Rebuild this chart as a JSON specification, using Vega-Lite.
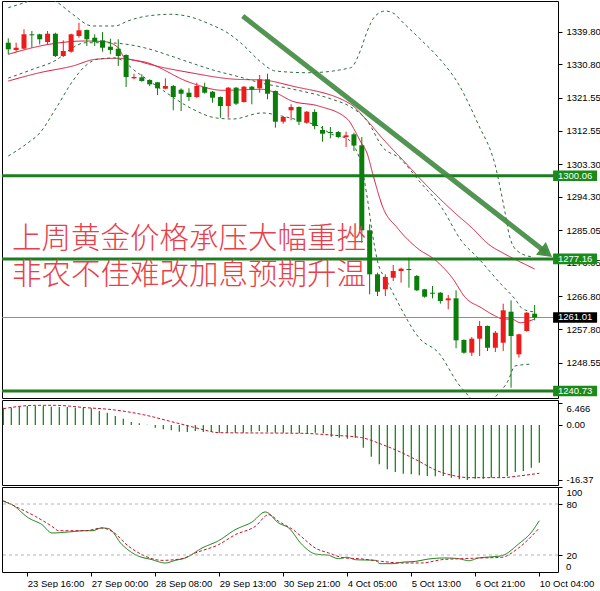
{
  "$schema": "https://vega.github.io/schema/vega-lite/v6.json",
  "background": "#ffffff",
  "padding": 0,
  "spacing": 2,
  "bounds": "flush",
  "resolve": {"scale": {"color": "independent", "strokeDash": "independent"}},
  "config": {
    "view": {"stroke": "#000000", "strokeWidth": 1},
    "axis": {"labelFont": "Liberation Sans", "labelFontSize": 9.5, "labelColor": "#000000", "tickColor": "#000000", "tickSize": 4, "labelPadding": 4, "domain": false, "grid": false, "labelOverlap": false, "labelBound": false, "tickCount": 30}
  },
  "datasets": {
    "candles": [
      {"k": 0, "o": 1336.76, "h": 1337.98, "l": 1333.57, "c": 1334.94},
      {"k": 1, "o": 1334.75, "h": 1336.76, "l": 1334.28, "c": 1335.38},
      {"k": 2, "o": 1335.11, "h": 1340.46, "l": 1334.94, "c": 1339.08},
      {"k": 3, "o": 1339.08, "h": 1339.99, "l": 1335.38, "c": 1338.80},
      {"k": 4, "o": 1339.08, "h": 1339.24, "l": 1336.32, "c": 1337.70},
      {"k": 5, "o": 1336.96, "h": 1339.99, "l": 1336.32, "c": 1339.24},
      {"k": 6, "o": 1339.24, "h": 1339.50, "l": 1332.82, "c": 1333.10},
      {"k": 7, "o": 1333.10, "h": 1337.42, "l": 1332.82, "c": 1334.47},
      {"k": 8, "o": 1334.28, "h": 1339.24, "l": 1334.01, "c": 1339.08},
      {"k": 9, "o": 1338.61, "h": 1342.28, "l": 1338.14, "c": 1340.18},
      {"k": 10, "o": 1340.26, "h": 1340.40, "l": 1335.85, "c": 1337.70},
      {"k": 11, "o": 1338.14, "h": 1339.08, "l": 1335.85, "c": 1337.04},
      {"k": 12, "o": 1337.42, "h": 1339.71, "l": 1334.28, "c": 1335.38},
      {"k": 13, "o": 1335.66, "h": 1337.87, "l": 1333.57, "c": 1334.75},
      {"k": 14, "o": 1335.11, "h": 1337.70, "l": 1330.34, "c": 1333.10},
      {"k": 15, "o": 1333.37, "h": 1333.57, "l": 1324.55, "c": 1327.31},
      {"k": 16, "o": 1326.95, "h": 1328.22, "l": 1326.67, "c": 1327.31},
      {"k": 17, "o": 1327.22, "h": 1328.05, "l": 1326.01, "c": 1326.20},
      {"k": 18, "o": 1326.48, "h": 1326.67, "l": 1324.83, "c": 1325.29},
      {"k": 19, "o": 1325.85, "h": 1325.93, "l": 1322.34, "c": 1324.19},
      {"k": 20, "o": 1324.08, "h": 1326.95, "l": 1323.92, "c": 1324.83},
      {"k": 21, "o": 1324.83, "h": 1325.10, "l": 1318.13, "c": 1321.79},
      {"k": 22, "o": 1323.81, "h": 1324.19, "l": 1317.93, "c": 1322.70},
      {"k": 23, "o": 1322.98, "h": 1324.19, "l": 1320.69, "c": 1321.79},
      {"k": 24, "o": 1321.79, "h": 1325.74, "l": 1321.52, "c": 1324.83},
      {"k": 25, "o": 1324.55, "h": 1325.74, "l": 1322.70, "c": 1322.98},
      {"k": 26, "o": 1323.25, "h": 1323.45, "l": 1320.22, "c": 1321.60},
      {"k": 27, "o": 1321.79, "h": 1321.90, "l": 1316.09, "c": 1319.31},
      {"k": 28, "o": 1319.31, "h": 1324.55, "l": 1316.09, "c": 1324.36},
      {"k": 29, "o": 1324.36, "h": 1324.55, "l": 1319.59, "c": 1319.95},
      {"k": 30, "o": 1320.41, "h": 1324.83, "l": 1320.22, "c": 1324.63},
      {"k": 31, "o": 1324.63, "h": 1324.83, "l": 1319.78, "c": 1323.81},
      {"k": 32, "o": 1324.19, "h": 1327.86, "l": 1322.98, "c": 1326.67},
      {"k": 33, "o": 1326.67, "h": 1328.22, "l": 1321.16, "c": 1322.70},
      {"k": 34, "o": 1323.45, "h": 1323.60, "l": 1313.33, "c": 1314.98},
      {"k": 35, "o": 1314.98, "h": 1316.55, "l": 1314.43, "c": 1316.28},
      {"k": 36, "o": 1318.13, "h": 1319.78, "l": 1315.37, "c": 1319.04},
      {"k": 37, "o": 1319.04, "h": 1319.20, "l": 1314.07, "c": 1314.98},
      {"k": 38, "o": 1314.71, "h": 1317.93, "l": 1314.43, "c": 1317.74},
      {"k": 39, "o": 1317.66, "h": 1318.40, "l": 1312.89, "c": 1313.80},
      {"k": 40, "o": 1312.69, "h": 1313.80, "l": 1309.47, "c": 1311.67},
      {"k": 41, "o": 1312.14, "h": 1313.52, "l": 1310.41, "c": 1311.87},
      {"k": 42, "o": 1312.14, "h": 1312.42, "l": 1310.41, "c": 1310.76},
      {"k": 43, "o": 1310.76, "h": 1312.23, "l": 1308.01, "c": 1311.23},
      {"k": 44, "o": 1311.51, "h": 1311.95, "l": 1306.90, "c": 1308.42},
      {"k": 45, "o": 1308.48, "h": 1310.76, "l": 1281.62, "c": 1285.04},
      {"k": 46, "o": 1285.04, "h": 1286.70, "l": 1267.40, "c": 1272.91},
      {"k": 47, "o": 1272.91, "h": 1273.35, "l": 1266.93, "c": 1268.11},
      {"k": 48, "o": 1268.78, "h": 1272.91, "l": 1266.93, "c": 1272.17},
      {"k": 49, "o": 1271.97, "h": 1275.48, "l": 1271.06, "c": 1273.82},
      {"k": 50, "o": 1273.82, "h": 1274.73, "l": 1270.60, "c": 1274.46},
      {"k": 51, "o": 1274.37, "h": 1277.49, "l": 1269.22, "c": 1274.10},
      {"k": 52, "o": 1272.44, "h": 1272.72, "l": 1268.31, "c": 1268.50},
      {"k": 53, "o": 1268.78, "h": 1268.90, "l": 1266.46, "c": 1266.74},
      {"k": 54, "o": 1267.84, "h": 1269.69, "l": 1266.29, "c": 1267.56},
      {"k": 55, "o": 1267.84, "h": 1268.00, "l": 1264.81, "c": 1265.55},
      {"k": 56, "o": 1265.74, "h": 1267.20, "l": 1263.26, "c": 1266.29},
      {"k": 57, "o": 1266.29, "h": 1268.50, "l": 1252.51, "c": 1254.71},
      {"k": 58, "o": 1254.80, "h": 1254.99, "l": 1251.02, "c": 1251.30},
      {"k": 59, "o": 1251.30, "h": 1255.62, "l": 1250.39, "c": 1255.16},
      {"k": 60, "o": 1255.16, "h": 1260.04, "l": 1250.39, "c": 1258.66},
      {"k": 61, "o": 1258.66, "h": 1258.80, "l": 1251.76, "c": 1252.67},
      {"k": 62, "o": 1252.67, "h": 1257.28, "l": 1251.49, "c": 1256.81},
      {"k": 63, "o": 1254.05, "h": 1264.81, "l": 1251.76, "c": 1262.99},
      {"k": 64, "o": 1262.60, "h": 1265.74, "l": 1241.65, "c": 1255.90},
      {"k": 65, "o": 1250.85, "h": 1256.53, "l": 1249.92, "c": 1256.37},
      {"k": 66, "o": 1257.28, "h": 1262.52, "l": 1257.09, "c": 1262.32},
      {"k": 67, "o": 1262.05, "h": 1264.45, "l": 1260.23, "c": 1261.01}
    ],
    "ind": [
      {"s": "fast", "k": 0, "v": 1333.57}, {"s": "fast", "k": 5.2, "v": 1336.32}, {"s": "fast", "k": 9.8, "v": 1337.23},
      {"s": "fast", "k": 12.3, "v": 1337.04}, {"s": "fast", "k": 14, "v": 1335.38}, {"s": "fast", "k": 14.8, "v": 1332.63},
      {"s": "fast", "k": 17.7, "v": 1331.25}, {"s": "fast", "k": 23.2, "v": 1325.74}, {"s": "fast", "k": 27.3, "v": 1323.64},
      {"s": "fast", "k": 32.3, "v": 1323.92}, {"s": "fast", "k": 34, "v": 1322.98}, {"s": "fast", "k": 36.1, "v": 1320.69},
      {"s": "fast", "k": 39.5, "v": 1319.31}, {"s": "fast", "k": 43.2, "v": 1315.64}, {"s": "fast", "k": 44, "v": 1312.97},
      {"s": "fast", "k": 44.8, "v": 1309.66}, {"s": "fast", "k": 45.7, "v": 1306.08}, {"s": "fast", "k": 46.5, "v": 1299.74},
      {"s": "fast", "k": 47.7, "v": 1291.27}, {"s": "fast", "k": 49.5, "v": 1285.76}, {"s": "fast", "k": 52, "v": 1280.24},
      {"s": "fast", "k": 54.5, "v": 1276.58}, {"s": "fast", "k": 56.5, "v": 1271.97}, {"s": "fast", "k": 58.2, "v": 1266.46},
      {"s": "fast", "k": 60.2, "v": 1263.70}, {"s": "fast", "k": 62, "v": 1261.41}, {"s": "fast", "k": 63, "v": 1260.59},
      {"s": "fast", "k": 64, "v": 1260.59}, {"s": "fast", "k": 65.2, "v": 1259.57}, {"s": "fast", "k": 67, "v": 1260.59},
      {"s": "slow", "k": 0, "v": 1326.20}, {"s": "slow", "k": 4, "v": 1328.49}, {"s": "slow", "k": 8.2, "v": 1330.34},
      {"s": "slow", "k": 11.1, "v": 1332.19}, {"s": "slow", "k": 14, "v": 1332.46}, {"s": "slow", "k": 16.5, "v": 1331.72},
      {"s": "slow", "k": 17.7, "v": 1330.97}, {"s": "slow", "k": 23.2, "v": 1328.49}, {"s": "slow", "k": 29, "v": 1326.67},
      {"s": "slow", "k": 32.3, "v": 1326.48}, {"s": "slow", "k": 36.1, "v": 1324.83}, {"s": "slow", "k": 43.6, "v": 1319.78},
      {"s": "slow", "k": 45.5, "v": 1315.73}, {"s": "slow", "k": 47.7, "v": 1310.21}, {"s": "slow", "k": 50.7, "v": 1303.32},
      {"s": "slow", "k": 52.7, "v": 1298.63}, {"s": "slow", "k": 54.8, "v": 1294.03}, {"s": "slow", "k": 57, "v": 1289.54},
      {"s": "slow", "k": 59, "v": 1285.76}, {"s": "slow", "k": 61.1, "v": 1281.26}, {"s": "slow", "k": 63.2, "v": 1278.51},
      {"s": "slow", "k": 65.7, "v": 1275.75}, {"s": "slow", "k": 67, "v": 1274.37},
      {"s": "up", "k": 0, "v": 1346.41}, {"s": "up", "k": 2.7, "v": 1348.26}, {"s": "up", "k": 4.5, "v": 1349.64},
      {"s": "up", "k": 6.3, "v": 1347.79}, {"s": "up", "k": 8.2, "v": 1344.59}, {"s": "up", "k": 10.7, "v": 1341.37},
      {"s": "up", "k": 13.6, "v": 1341.37}, {"s": "up", "k": 15.2, "v": 1342.75}, {"s": "up", "k": 17.7, "v": 1344.12},
      {"s": "up", "k": 20.7, "v": 1344.59}, {"s": "up", "k": 22.7, "v": 1344.12}, {"s": "up", "k": 25.7, "v": 1341.84},
      {"s": "up", "k": 28.2, "v": 1339.08}, {"s": "up", "k": 29.8, "v": 1336.32}, {"s": "up", "k": 32, "v": 1331.72},
      {"s": "up", "k": 34, "v": 1328.96}, {"s": "up", "k": 38.2, "v": 1328.49}, {"s": "up", "k": 43.6, "v": 1329.87},
      {"s": "up", "k": 44.8, "v": 1334.47}, {"s": "up", "k": 45.7, "v": 1339.99}, {"s": "up", "k": 46.7, "v": 1344.12},
      {"s": "up", "k": 48, "v": 1345.50}, {"s": "up", "k": 49.2, "v": 1344.68}, {"s": "up", "k": 49.8, "v": 1343.30},
      {"s": "up", "k": 52.3, "v": 1338.06}, {"s": "up", "k": 54.8, "v": 1332.55}, {"s": "up", "k": 57.3, "v": 1325.38},
      {"s": "up", "k": 59.8, "v": 1314.35}, {"s": "up", "k": 62, "v": 1302.77}, {"s": "up", "k": 63.2, "v": 1290.36},
      {"s": "up", "k": 63.8, "v": 1283.47}, {"s": "up", "k": 64.8, "v": 1279.33}, {"s": "up", "k": 66.7, "v": 1277.68},
      {"s": "mid", "k": 0, "v": 1327.00}, {"s": "mid", "k": 3.2, "v": 1329.51}, {"s": "mid", "k": 6.1, "v": 1331.99},
      {"s": "mid", "k": 8.2, "v": 1335.38}, {"s": "mid", "k": 9.8, "v": 1336.76}, {"s": "mid", "k": 12.3, "v": 1336.76},
      {"s": "mid", "k": 14.5, "v": 1336.49}, {"s": "mid", "k": 17.3, "v": 1335.38}, {"s": "mid", "k": 20.7, "v": 1333.10},
      {"s": "mid", "k": 23.2, "v": 1331.25}, {"s": "mid", "k": 26.5, "v": 1328.96}, {"s": "mid", "k": 29, "v": 1327.58},
      {"s": "mid", "k": 32.3, "v": 1325.60}, {"s": "mid", "k": 36.1, "v": 1324.00}, {"s": "mid", "k": 41.1, "v": 1321.24},
      {"s": "mid", "k": 43.6, "v": 1319.04}, {"s": "mid", "k": 45.7, "v": 1315.18}, {"s": "mid", "k": 47.7, "v": 1307.82},
      {"s": "mid", "k": 49.8, "v": 1304.98}, {"s": "mid", "k": 52.3, "v": 1298.63}, {"s": "mid", "k": 55.2, "v": 1291.19},
      {"s": "mid", "k": 57.7, "v": 1282.09}, {"s": "mid", "k": 59.8, "v": 1277.41}, {"s": "mid", "k": 62.7, "v": 1270.24},
      {"s": "mid", "k": 64.5, "v": 1266.10}, {"s": "mid", "k": 65.5, "v": 1263.34}, {"s": "mid", "k": 67, "v": 1262.52},
      {"s": "lo", "k": 0, "v": 1305.53}, {"s": "lo", "k": 2.3, "v": 1308.83}, {"s": "lo", "k": 4, "v": 1311.87},
      {"s": "lo", "k": 6.1, "v": 1318.76}, {"s": "lo", "k": 8.2, "v": 1326.20}, {"s": "lo", "k": 9.8, "v": 1330.34},
      {"s": "lo", "k": 11.5, "v": 1332.27}, {"s": "lo", "k": 13.6, "v": 1332.55}, {"s": "lo", "k": 16.5, "v": 1328.41},
      {"s": "lo", "k": 19.8, "v": 1323.45}, {"s": "lo", "k": 23.2, "v": 1318.76}, {"s": "lo", "k": 26.5, "v": 1316.00},
      {"s": "lo", "k": 28.6, "v": 1315.73}, {"s": "lo", "k": 32.3, "v": 1317.40}, {"s": "lo", "k": 34.8, "v": 1316.55},
      {"s": "lo", "k": 37.3, "v": 1315.18}, {"s": "lo", "k": 39.5, "v": 1313.80}, {"s": "lo", "k": 41.1, "v": 1311.59},
      {"s": "lo", "k": 43.2, "v": 1310.21}, {"s": "lo", "k": 44, "v": 1308.28}, {"s": "lo", "k": 44.8, "v": 1304.15},
      {"s": "lo", "k": 45.7, "v": 1293.95}, {"s": "lo", "k": 46.3, "v": 1284.85}, {"s": "lo", "k": 47, "v": 1276.58},
      {"s": "lo", "k": 48.2, "v": 1271.06}, {"s": "lo", "k": 49.5, "v": 1265.55}, {"s": "lo", "k": 52.3, "v": 1255.35},
      {"s": "lo", "k": 54.8, "v": 1251.21}, {"s": "lo", "k": 57.3, "v": 1242.67}, {"s": "lo", "k": 58.6, "v": 1239.36},
      {"s": "lo", "k": 60.5, "v": 1235.77}, {"s": "lo", "k": 62.1, "v": 1239.36}, {"s": "lo", "k": 63.6, "v": 1243.49},
      {"s": "lo", "k": 64.5, "v": 1247.63}, {"s": "lo", "k": 66.7, "v": 1248.18}
    ],
    "levels": [
      {"p": 1300.06, "t": "g"},
      {"p": 1277.16, "t": "g"},
      {"p": 1240.73, "t": "g"},
      {"p": 1261.01, "t": "b"}
    ],
    "notes": [
      {"t": "上周黄金价格承压大幅重挫", "p": 1282.64},
      {"t": "非农不佳难改加息预期升温", "p": 1272.72}
    ],
    "macd": [
      {"k": 0, "v": 5.16}, {"k": 1, "v": 5.16}, {"k": 2, "v": 5.36}, {"k": 3, "v": 5.65}, {"k": 4, "v": 5.65},
      {"k": 5, "v": 5.65}, {"k": 6, "v": 5.46}, {"k": 7, "v": 5.36}, {"k": 8, "v": 5.36}, {"k": 9, "v": 5.16},
      {"k": 10, "v": 5.16}, {"k": 11, "v": 4.96}, {"k": 12, "v": 4.17}, {"k": 13, "v": 3.67}, {"k": 14, "v": 2.68},
      {"k": 15, "v": 1.88}, {"k": 16, "v": 0.89}, {"k": 17, "v": 0.5}, {"k": 18, "v": 0.1}, {"k": 19, "v": -0.79},
      {"k": 20, "v": -1.29}, {"k": 21, "v": -1.59}, {"k": 22, "v": -1.98}, {"k": 23, "v": -2.08}, {"k": 24, "v": -1.79},
      {"k": 25, "v": -2.08}, {"k": 26, "v": -2.08}, {"k": 27, "v": -2.28}, {"k": 28, "v": -2.28}, {"k": 29, "v": -2.28},
      {"k": 30, "v": -2.28}, {"k": 31, "v": -1.98}, {"k": 32, "v": -1.79}, {"k": 33, "v": -2.08}, {"k": 34, "v": -2.28},
      {"k": 35, "v": -2.28}, {"k": 36, "v": -2.28}, {"k": 37, "v": -2.48}, {"k": 38, "v": -2.48}, {"k": 39, "v": -2.28},
      {"k": 40, "v": -2.48}, {"k": 41, "v": -3.47}, {"k": 42, "v": -3.77}, {"k": 43, "v": -4.07}, {"k": 44, "v": -3.77},
      {"k": 45, "v": -6.75}, {"k": 46, "v": -9.43}, {"k": 47, "v": -11.71}, {"k": 48, "v": -13.19}, {"k": 49, "v": -13.99},
      {"k": 50, "v": -14.48}, {"k": 51, "v": -14.68}, {"k": 52, "v": -14.98}, {"k": 53, "v": -15.18}, {"k": 54, "v": -15.28},
      {"k": 55, "v": -15.18}, {"k": 56, "v": -15.68}, {"k": 57, "v": -16.17}, {"k": 58, "v": -16.37}, {"k": 59, "v": -15.97},
      {"k": 60, "v": -15.97}, {"k": 61, "v": -15.68}, {"k": 62, "v": -15.48}, {"k": 63, "v": -15.18}, {"k": 64, "v": -13.99},
      {"k": 65, "v": -13.69}, {"k": 66, "v": -12.7}, {"k": 67, "v": -11.21}
    ],
    "signal": [
      {"k": 0, "v": 4.86}, {"k": 4, "v": 5.85}, {"k": 6.5, "v": 5.85}, {"k": 10.3, "v": 5.16}, {"k": 13.2, "v": 4.66},
      {"k": 15.7, "v": 3.87}, {"k": 18.6, "v": 2.48}, {"k": 20.7, "v": 1.19}, {"k": 23.2, "v": -0.3}, {"k": 24.8, "v": -1.29},
      {"k": 26.9, "v": -2.28}, {"k": 37.3, "v": -2.48}, {"k": 41.5, "v": -3.08}, {"k": 44.8, "v": -3.77}, {"k": 47.3, "v": -5.75},
      {"k": 49.8, "v": -8.23}, {"k": 51.9, "v": -10.71}, {"k": 54, "v": -13.39}, {"k": 56.1, "v": -14.98}, {"k": 58.2, "v": -15.67},
      {"k": 62.3, "v": -15.67}, {"k": 64.4, "v": -15.18}, {"k": 67, "v": -14.38}
    ],
    "stoch": [
      {"s": "K", "k": 0, "v": 83.1}, {"s": "K", "k": 1.09, "v": 79.2}, {"s": "K", "k": 3.17, "v": 63.5}, {"s": "K", "k": 4.84, "v": 55.7},
      {"s": "K", "k": 6.09, "v": 45.9}, {"s": "K", "k": 8.17, "v": 47.1}, {"s": "K", "k": 10.25, "v": 48.6}, {"s": "K", "k": 11.09, "v": 48.6},
      {"s": "K", "k": 12.34, "v": 51.8}, {"s": "K", "k": 13.17, "v": 51.0}, {"s": "K", "k": 14.84, "v": 32.2}, {"s": "K", "k": 16.5, "v": 20.4},
      {"s": "K", "k": 18.59, "v": 14.5}, {"s": "K", "k": 20.25, "v": 10.6}, {"s": "K", "k": 21.5, "v": 13.7}, {"s": "K", "k": 22.75, "v": 16.5},
      {"s": "K", "k": 24.84, "v": 28.2}, {"s": "K", "k": 26.92, "v": 36.9}, {"s": "K", "k": 29, "v": 49.8}, {"s": "K", "k": 31.09, "v": 58.8},
      {"s": "K", "k": 32.75, "v": 70.6}, {"s": "K", "k": 34.42, "v": 57.6}, {"s": "K", "k": 35.67, "v": 51.8}, {"s": "K", "k": 37.34, "v": 32.2},
      {"s": "K", "k": 39, "v": 21.2}, {"s": "K", "k": 40.67, "v": 19.6}, {"s": "K", "k": 41.9, "v": 15.7}, {"s": "K", "k": 42.96, "v": 17.3},
      {"s": "K", "k": 44, "v": 14.5}, {"s": "K", "k": 46.5, "v": 13.7}, {"s": "K", "k": 47.1, "v": 9.8}, {"s": "K", "k": 48.6, "v": 9.8},
      {"s": "K", "k": 49.8, "v": 11.4}, {"s": "K", "k": 51.5, "v": 12.5}, {"s": "K", "k": 53.2, "v": 15.3}, {"s": "K", "k": 55.2, "v": 16.5},
      {"s": "K", "k": 56.9, "v": 15.7}, {"s": "K", "k": 58.2, "v": 13.3}, {"s": "K", "k": 59.4, "v": 16.5}, {"s": "K", "k": 60.7, "v": 17.6},
      {"s": "K", "k": 62.3, "v": 19.2}, {"s": "K", "k": 64.4, "v": 32.9}, {"s": "K", "k": 66.1, "v": 47.8}, {"s": "K", "k": 67, "v": 60.4},
      {"s": "D", "k": 0, "v": 83.9}, {"s": "D", "k": 1.92, "v": 75.3}, {"s": "D", "k": 4, "v": 65.5}, {"s": "D", "k": 6.09, "v": 53.7},
      {"s": "D", "k": 6.92, "v": 48.6}, {"s": "D", "k": 10.25, "v": 48.6}, {"s": "D", "k": 12.34, "v": 51.8}, {"s": "D", "k": 13.59, "v": 47.8},
      {"s": "D", "k": 15.67, "v": 30.2}, {"s": "D", "k": 17.34, "v": 20.4}, {"s": "D", "k": 19.84, "v": 13.7}, {"s": "D", "k": 22.34, "v": 15.7},
      {"s": "D", "k": 24, "v": 22.4}, {"s": "D", "k": 26.92, "v": 32.2}, {"s": "D", "k": 29, "v": 43.9}, {"s": "D", "k": 31.5, "v": 53.7},
      {"s": "D", "k": 33.17, "v": 67.5}, {"s": "D", "k": 34.42, "v": 59.6}, {"s": "D", "k": 36.5, "v": 47.8}, {"s": "D", "k": 37.34, "v": 41.0},
      {"s": "D", "k": 39, "v": 28.2}, {"s": "D", "k": 40.67, "v": 22.4}, {"s": "D", "k": 42.7, "v": 16.5}, {"s": "D", "k": 44.4, "v": 15.7},
      {"s": "D", "k": 47.3, "v": 12.5}, {"s": "D", "k": 49.8, "v": 10.6}, {"s": "D", "k": 52.3, "v": 10.6}, {"s": "D", "k": 54.8, "v": 14.5},
      {"s": "D", "k": 57.3, "v": 15.7}, {"s": "D", "k": 59.8, "v": 16.5}, {"s": "D", "k": 62.3, "v": 17.3}, {"s": "D", "k": 64.4, "v": 28.2},
      {"s": "D", "k": 67, "v": 51.8}
    ]
  },
  "vconcat": [
    {
      "width": 556,
      "height": 397,
      "layer": [
        {
          "data": {"name": "ind"},
          "mark": {"type": "line", "clip": true, "strokeWidth": 1, "interpolate": "monotone"},
          "encoding": {
            "x": {"field": "k", "type": "quantitative", "scale": {"domain": [-0.1625, 69.3375], "nice": false, "zero": false}, "axis": null},
            "y": {"field": "v", "type": "quantitative", "title": null, "scale": {"domain": [1238.81, 1348.26], "nice": false, "zero": false},
                  "axis": {"orient": "right", "values": [1339.8, 1330.8, 1321.55, 1312.55, 1303.3, 1294.3, 1285.05, 1276.05, 1266.8, 1257.8, 1248.55], "tickCount": 30, "format": ".2f", "labelOverlap": false, "labelBound": false}},
            "detail": {"field": "s"},
            "color": {"field": "s", "type": "nominal", "scale": {"domain": ["fast", "slow", "up", "mid", "lo"], "range": ["#d9163a", "#d9163a", "#2f6b3f", "#2f6b3f", "#2f6b3f"]}, "legend": null},
            "strokeDash": {"field": "s", "type": "nominal", "scale": {"domain": ["fast", "slow", "up", "mid", "lo"], "range": [[1, 0], [1, 0], [3, 3], [3, 3], [3, 3]]}, "legend": null}
          }
        },
        {
          "data": {"name": "levels"},
          "mark": {"type": "rule"},
          "encoding": {
            "y": {"field": "p", "type": "quantitative", "title": null},
            "color": {"condition": {"test": "datum.t == 'b'", "value": "#8c8c8c"}, "value": "#1e7d1e"},
            "strokeWidth": {"condition": {"test": "datum.t == 'b'", "value": 1}, "value": 3}
          }
        },
        {
          "data": {"name": "candles"},
          "mark": {"type": "rule", "strokeWidth": 1, "clip": true},
          "encoding": {
            "x": {"field": "k", "type": "quantitative", "axis": null},
            "y": {"field": "l", "type": "quantitative", "title": null},
            "y2": {"field": "h"},
            "color": {"condition": {"test": "datum.c >= datum.o", "value": "#ec1c1c"}, "value": "#0b7d0b"}
          }
        },
        {
          "data": {"name": "candles"},
          "mark": {"type": "bar", "width": 5, "clip": true},
          "encoding": {
            "x": {"field": "k", "type": "quantitative", "axis": null},
            "y": {"field": "o", "type": "quantitative", "title": null},
            "y2": {"field": "c"},
            "color": {"condition": {"test": "datum.c >= datum.o", "value": "#ec1c1c"}, "value": "#0b7d0b"}
          }
        },
        {
          "data": {"values": [{}]},
          "mark": {"type": "rule", "strokeWidth": 5, "color": "#3f8a3f", "opacity": 0.9},
          "encoding": {
            "x": {"datum": 29.84, "type": "quantitative", "axis": null},
            "y": {"datum": 1344.12, "type": "quantitative", "title": null},
            "x2": {"datum": 68.51},
            "y2": {"datum": 1278.87}
          }
        },
        {
          "data": {"values": [{}]},
          "mark": {"type": "point", "shape": "triangle-up", "filled": true, "size": 260, "angle": 127.5, "color": "#3f8a3f", "opacity": 0.95},
          "encoding": {
            "x": {"datum": 68.51, "type": "quantitative", "axis": null},
            "y": {"datum": 1278.87, "type": "quantitative", "title": null}
          }
        },
        {
          "data": {"name": "notes"},
          "mark": {"type": "text", "font": "Noto Sans CJK SC", "fontSize": 29.5, "fontWeight": 300, "color": "#e8404a", "align": "left", "baseline": "middle"},
          "encoding": {
            "x": {"datum": 0.46, "type": "quantitative", "axis": null},
            "y": {"field": "p", "type": "quantitative", "title": null},
            "text": {"field": "t"}
          }
        },
        {
          "data": {"name": "levels"},
          "mark": {"type": "point", "shape": "M-1,-0.24L1,-0.24L1,0.24L-1,0.24Z", "filled": true, "size": 1936, "opacity": 1},
          "encoding": {
            "x": {"datum": 72.15, "type": "quantitative", "axis": null},
            "y": {"field": "p", "type": "quantitative", "title": null},
            "color": {"condition": {"test": "datum.t == 'b'", "value": "#000000"}, "value": "#1a8a1a"}
          }
        },
        {
          "data": {"name": "levels"},
          "mark": {"type": "text", "font": "Liberation Sans", "fontSize": 9.5, "color": "#ffffff", "align": "left", "baseline": "middle"},
          "encoding": {
            "x": {"datum": 69.96, "type": "quantitative", "axis": null},
            "y": {"field": "p", "type": "quantitative", "title": null},
            "text": {"field": "p", "type": "quantitative", "format": ".2f"}
          }
        }
      ]
    },
    {
      "width": 556,
      "height": 85,
      "layer": [
        {
          "data": {"name": "macd"},
          "mark": {"type": "rule", "strokeWidth": 1.2, "color": "#0b7d0b"},
          "encoding": {
            "x": {"field": "k", "type": "quantitative", "scale": {"domain": [-0.1625, 69.3375], "nice": false, "zero": false}, "axis": null},
            "y": {"field": "v", "type": "quantitative", "title": null, "scale": {"domain": [-17.86, 7.44], "nice": false, "zero": false},
                  "axis": {"orient": "right", "values": [6.466, 0, -16.37], "tickCount": 30, "labelExpr": "datum.value == 0 ? '0.00' : (datum.value > 0 ? '6.466' : '-16.37')", "labelBaseline": {"condition": {"test": "datum.value > 1", "value": "top"}, "value": "middle"}, "labelOverlap": false, "labelBound": false}},
            "y2": {"datum": 0}
          }
        },
        {
          "data": {"name": "signal"},
          "mark": {"type": "line", "strokeWidth": 1, "color": "#c8102e", "strokeDash": [3, 2], "interpolate": "monotone"},
          "encoding": {
            "x": {"field": "k", "type": "quantitative", "axis": null},
            "y": {"field": "v", "type": "quantitative", "title": null}
          }
        }
      ]
    },
    {
      "width": 556,
      "height": 85,
      "layer": [
        {
          "data": {"name": "stoch"},
          "mark": {"type": "line", "strokeWidth": 1, "interpolate": "monotone"},
          "encoding": {
            "x": {"field": "k", "type": "quantitative", "title": null, "scale": {"domain": [-0.1625, 69.3375], "nice": false, "zero": false},
                  "axis": {"values": [3, 11, 19, 27, 35, 43, 51, 59, 67], "tickCount": 30, "labelExpr": "['23 Sep 16:00','27 Sep 00:00','28 Sep 08:00','29 Sep 13:00','30 Sep 21:00','4 Oct 05:00','5 Oct 13:00','6 Oct 21:00','10 Oct 04:00'][round((datum.value - 3) / 8)]", "labelAlign": "left", "labelPadding": 2, "labelFlush": false, "labelOverlap": false, "labelBound": false}},
            "y": {"field": "v", "type": "quantitative", "title": null, "scale": {"domain": [0, 100], "nice": false, "zero": false},
                  "axis": {"orient": "right", "values": [100, 80, 20], "tickCount": 30, "format": "d", "labelFlush": false, "labelBaseline": {"condition": {"test": "datum.value == 100", "value": "top"}, "value": "middle"}, "labelOverlap": false, "labelBound": false}},
            "detail": {"field": "s"},
            "color": {"field": "s", "type": "nominal", "scale": {"domain": ["K", "D"], "range": ["#0b7d0b", "#c8102e"]}, "legend": null},
            "strokeDash": {"field": "s", "type": "nominal", "scale": {"domain": ["K", "D"], "range": [[1, 0], [3, 2]]}, "legend": null}
          }
        },
        {
          "data": {"values": [{"lv": 20}, {"lv": 80}]},
          "mark": {"type": "rule", "strokeWidth": 1, "color": "#b4b4b4", "strokeDash": [3, 3]},
          "encoding": {
            "y": {"field": "lv", "type": "quantitative", "title": null}
          }
        },
        {
          "data": {"values": [{"lab": "0"}]},
          "mark": {"type": "text", "font": "Liberation Sans", "fontSize": 9.5, "color": "#000000", "align": "left", "baseline": "bottom"},
          "encoding": {
            "x": {"datum": 70.34, "type": "quantitative"},
            "y": {"datum": 0, "type": "quantitative", "title": null},
            "text": {"field": "lab"}
          }
        }
      ]
    }
  ]
}
